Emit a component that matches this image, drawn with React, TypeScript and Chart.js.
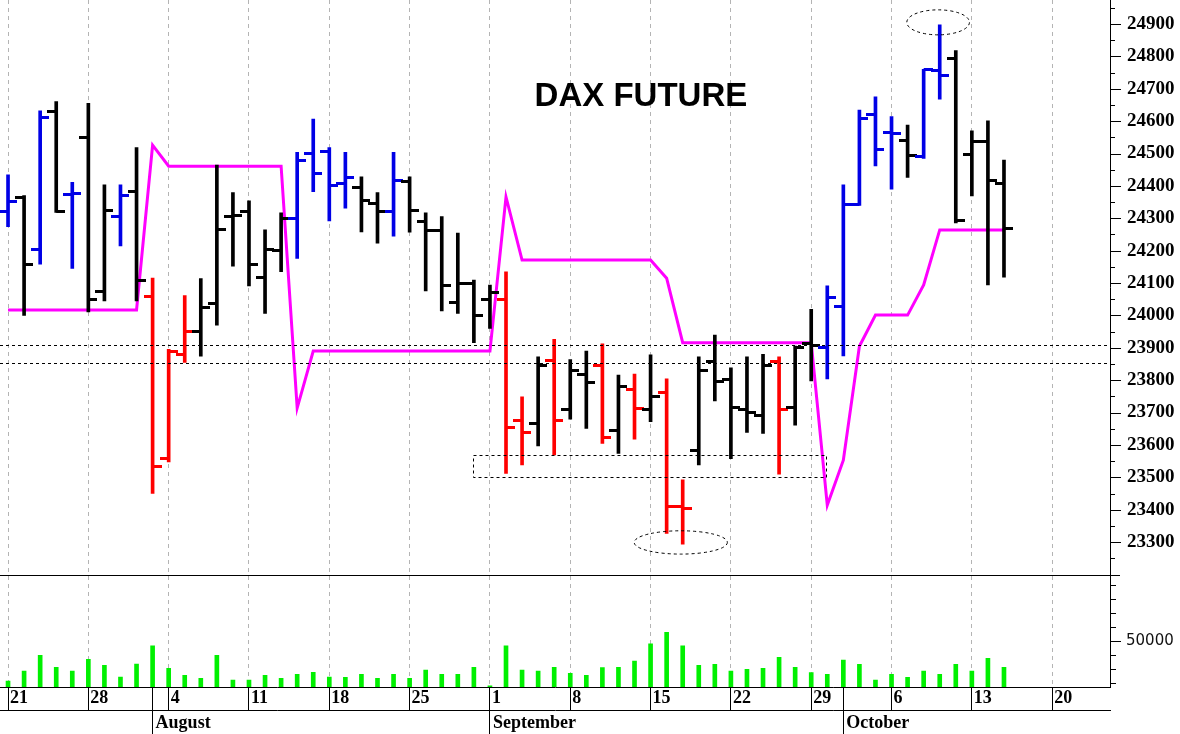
import React, { useEffect, useRef } from "react";
import { Chart, registerables } from "chart.js";

Chart.register(...registerables);

// ---- Axis labels ----
const dayTickIndex = [0, 5, 10, 15, 20, 25, 30, 35, 40, 45, 50, 55, 60, 65];
const dayTickLabels = ["21", "28", "4", "11", "18", "25", "1", "8", "15", "22", "29", "6", "13", "20"];
const monthTickIndex = [9, 30, 52];
const monthTickLabels = ["August", "September", "October"];
const priceTickValues = [
  23300, 23400, 23500, 23600, 23700, 23800, 23900, 24000, 24100,
  24200, 24300, 24400, 24500, 24600, 24700, 24800, 24900,
];
const volumeTickValues = [20000, 30000, 40000, 50000, 60000, 70000, 80000, 90000];
const volumeLabelValue = 50000;

// ---- Daily OHLC (trading days from Mon 21 Jul) ----
const opens = [
  24320, 24365, 24205, 24629, 24372, 24550, 24073, 24305, 24382, 24058,
  23558, 23878, 23950, 24037, 24305, 24320, 24116, 24202, 24300, 24501,
  24506, 24408, 24396, 24346, 24322, 24413, 24289, 24262, 24039, 24099,
  24050, 24050, 23675, 23667, 23862, 23711, 23819, 23844, 23646, 23770,
  23708, 23761, 23409, 23584, 23857, 23803, 23710, 23692, 23857, 23715,
  23914, 23901, 24029, 24344, 24619, 24564, 24540, 24492, 24756, 24792,
  24498, 24536, 24408,
];
const highs = [
  24434, 24370, 24632, 24660, 24411, 24655, 24403, 24403, 24518, 24115,
  23895, 24061, 24114, 24464, 24379, 24354, 24264, 24317, 24504, 24606,
  24518, 24504, 24428, 24379, 24504, 24428, 24317, 24305, 24254, 24109,
  24094, 24135, 23749, 23872, 23926, 23864, 23890, 23912, 23816, 23819,
  23878, 23804, 23492, 23872, 23939, 23838, 23872, 23880, 23872, 23905,
  24019, 24091, 24403, 24634, 24675, 24614, 24588, 24760, 24897, 24818,
  24570, 24601, 24480,
];
const lows = [
  24274, 24000, 24158, 24318, 24145, 24011, 24045, 24215, 24045, 23450,
  23548, 23855, 23874, 23970, 24152, 24091, 24006, 24135, 24176, 24382,
  24292, 24331, 24258, 24223, 24245, 24257, 24076, 24014, 24006, 23916,
  23960, 23512, 23538, 23597, 23569, 23680, 23651, 23605, 23574, 23618,
  23672, 23327, 23294, 23538, 23736, 23558, 23639, 23636, 23510, 23661,
  23798, 23804, 23875, 24340, 24462, 24390, 24426, 24485, 24668, 24286,
  24369, 24094, 24118,
];
const closes = [
  24351, 24158, 24611, 24320, 24376, 24050, 24325, 24369, 24107, 23533,
  23890, 23950, 24024, 24264, 24310, 24158, 24205, 24300, 24478, 24439,
  24400, 24425, 24356, 24320, 24418, 24323, 24262, 24091, 24099, 24001,
  24072, 23654, 23639, 23845, 23674, 23831, 23793, 23623, 23780, 23713,
  23749, 23411, 23405, 23831, 23797, 23715, 23699, 23845, 23710, 23900,
  23906, 24054, 24343, 24609, 24511, 24562, 24495, 24758, 24742, 24292,
  24536, 24416, 24269,
];
// B = blue, K = black, R = red
const barColorCodes = [
  "B", "K", "B", "K", "B", "K", "K", "B", "K", "R",
  "R", "R", "K", "K", "K", "K", "K", "K", "B", "B",
  "B", "B", "K", "K", "B", "K", "K", "K", "K", "K",
  "K", "R", "R", "K", "R", "K", "K", "R", "K", "R",
  "K", "R", "R", "K", "K", "K", "K", "K", "R", "K",
  "K", "B", "B", "B", "B", "B", "K", "B", "B", "K",
  "K", "K", "K",
];
// magenta stop line
const stopLine = [
  24017, 24017, 24017, 24017, 24017, 24017, 24017, 24017, 24017, 24526,
  24461, 24461, 24461, 24461, 24461, 24461, 24461, 24461, 23714, 23890,
  23890, 23890, 23890, 23890, 23890, 23890, 23890, 23890, 23890, 23890,
  23890, 24366, 24171, 24171, 24171, 24171, 24171, 24171, 24171, 24171,
  24171, 24115, 23916, 23916, 23916, 23916, 23916, 23916, 23916, 23916,
  23916, 23414, 23553, 23905, 24001, 24001, 24001, 24094, 24264, 24264,
  24264, 24264, 24264,
];
const volumes = [
  21400, 28600, 39800, 31200, 28600, 36900, 32600, 24300, 33600, 46600,
  30500, 25500, 23400, 39800, 22100, 22100, 25500, 23400, 26200, 27600,
  24300, 24100, 26200, 23400, 26200, 23400, 29300, 26200, 26200, 31200,
  18000, 46600, 29300, 28600, 31200, 26900, 25500, 31000, 31200, 35700,
  47900, 56200, 46600, 32600, 33400, 28600, 29800, 30500, 38400, 31200,
  27400, 26200, 36400, 33400, 22100, 26200, 24100, 28600, 26200, 33400,
  28600, 37600, 31200,
];

// ---- Annotations (in data units) ----
const supportLines = [23908, 23852];
const supportBox = { fromIdx: 28.95, toIdx: 50.9, low: 23500, high: 23569 };
const ellipses = [
  { idx: 41.88, price: 23299, rIdx: 2.9, rPrice: 36 },
  { idx: 57.9, price: 24905, rIdx: 1.95, rPrice: 38.6 },
];
const titleText = "DAX FUTURE";
const titleAt = { idx: 39.4, price: 24676 };

const PRICE_MIN = 23200;
const PRICE_MAX = 24974;
const VOL_MIN = 17143;
const VOL_MAX = 97500;

const colorMap: Record<string, string> = { B: "#0000e6", K: "#000000", R: "#ff0000" };
const SERIF = '"Liberation Serif", "Times New Roman", serif';

function makeTick(color: string, left: boolean) {
  const c = document.createElement("canvas");
  c.width = 18;
  c.height = 3;
  const g = c.getContext("2d")!;
  g.fillStyle = color;
  if (left) g.fillRect(0, 0, 9, 3);
  else g.fillRect(9, 0, 9, 3);
  return c;
}

const decorPlugin = {
  id: "decor",
  beforeDraw(chart: any) {
    const ctx = chart.ctx;
    ctx.save();
    ctx.fillStyle = "#ffffff";
    ctx.fillRect(0, 0, chart.width, chart.height);
    ctx.restore();
  },
  afterDraw(chart: any) {
    const ctx: CanvasRenderingContext2D = chart.ctx;
    const x = chart.scales.x;
    const y = chart.scales.y;
    const yv = chart.scales.yv;
    const area = chart.chartArea;
    const line = (x1: number, y1: number, x2: number, y2: number) => {
      ctx.beginPath();
      ctx.moveTo(x1, y1);
      ctx.lineTo(x2, y2);
      ctx.stroke();
    };
    ctx.save();
    ctx.strokeStyle = "#000";
    ctx.lineWidth = 1;
    // panel separator
    const sep = Math.round(y.bottom) + 0.5;
    line(area.left, sep, y.left + 10, sep);
    // price axis ticks (major every 100, minor every 50)
    for (let v = 23250; v <= 24950; v += 50) {
      const py = Math.round(y.getPixelForValue(v)) + 0.5;
      const len = v % 100 === 0 ? 11 : 5;
      line(y.left, py, y.left + len, py);
    }
    // volume axis ticks
    for (const v of volumeTickValues) {
      const py = Math.round(yv.getPixelForValue(v)) + 0.5;
      const len = v === volumeLabelValue ? 11 : 6;
      line(yv.left, py, yv.left + len, py);
    }
    // dotted annotations
    ctx.setLineDash([3, 3]);
    for (const v of supportLines) {
      const py = Math.round(y.getPixelForValue(v)) + 0.5;
      line(area.left, py, area.right, py);
    }
    const bx0 = Math.round(x.getPixelForValue(supportBox.fromIdx)) + 0.5;
    const bx1 = Math.round(x.getPixelForValue(supportBox.toIdx)) + 0.5;
    const by0 = Math.round(y.getPixelForValue(supportBox.high)) + 0.5;
    const by1 = Math.round(y.getPixelForValue(supportBox.low)) + 0.5;
    ctx.strokeRect(bx0, by0, bx1 - bx0, by1 - by0);
    for (const e of ellipses) {
      const cx = x.getPixelForValue(e.idx);
      const cy = y.getPixelForValue(e.price);
      const rx = x.getPixelForValue(e.idx + e.rIdx) - cx;
      const ry = cy - y.getPixelForValue(e.price + e.rPrice);
      ctx.beginPath();
      ctx.ellipse(cx, cy, rx, ry, 0, 0, Math.PI * 2);
      ctx.stroke();
    }
    ctx.setLineDash([]);
    // title
    ctx.fillStyle = "#000";
    ctx.font = 'bold 33px "Liberation Sans", Arial, sans-serif';
    ctx.textAlign = "center";
    ctx.textBaseline = "middle";
    ctx.fillText(titleText, x.getPixelForValue(titleAt.idx), y.getPixelForValue(titleAt.price));
    ctx.restore();
  },
};

export default function App() {
  const ref = useRef<HTMLCanvasElement>(null);
  useEffect(() => {
    document.body.style.margin = "0";
    const canvas = ref.current!;
    const idx = opens.map((_, i) => i);
    const imgs: Record<string, { L: HTMLCanvasElement; R: HTMLCanvasElement }> = {};
    for (const k of Object.keys(colorMap)) {
      imgs[k] = { L: makeTick(colorMap[k], true), R: makeTick(colorMap[k], false) };
    }
    const monthOnly = (v: number) => monthTickIndex.includes(v) && !dayTickIndex.includes(v);
    const zeroPad = (s: any) => {
      s.paddingLeft = 0;
      s.paddingRight = 0;
      s.paddingTop = 0;
      s.paddingBottom = 0;
    };

    const chart = new Chart(canvas, {
      type: "bar",
      data: {
        datasets: [
          {
            type: "scatter",
            label: "open",
            data: idx.map((i) => ({ x: i, y: opens[i] })),
            pointStyle: idx.map((i) => imgs[barColorCodes[i]].L),
            pointRadius: 4,
            showLine: false,
            xAxisID: "x",
            yAxisID: "y",
            order: 1,
          } as any,
          {
            type: "scatter",
            label: "close",
            data: idx.map((i) => ({ x: i, y: closes[i] })),
            pointStyle: idx.map((i) => imgs[barColorCodes[i]].R),
            pointRadius: 4,
            showLine: false,
            xAxisID: "x",
            yAxisID: "y",
            order: 1,
          } as any,
          {
            type: "bar",
            label: "range",
            data: idx.map((i) => ({ x: i, y: [lows[i], highs[i]] })),
            backgroundColor: idx.map((i) => colorMap[barColorCodes[i]]),
            borderWidth: 0,
            barThickness: 3,
            grouped: false,
            xAxisID: "x",
            yAxisID: "y",
            order: 2,
          } as any,
          {
            type: "bar",
            label: "volume",
            data: idx.map((i) => ({ x: i, y: volumes[i] })),
            backgroundColor: "#00f000",
            borderWidth: 0,
            barThickness: 4,
            grouped: false,
            xAxisID: "x",
            yAxisID: "yv",
            order: 3,
          } as any,
          {
            type: "line",
            label: "stop",
            data: idx.map((i) => ({ x: i, y: stopLine[i] })),
            borderColor: "#ff00ff",
            borderWidth: 3,
            pointRadius: 0,
            tension: 0,
            fill: false,
            xAxisID: "x",
            yAxisID: "y",
            order: 10,
          } as any,
        ],
      },
      options: {
        responsive: false,
        animation: false,
        devicePixelRatio: 1,
        events: [],
        layout: { padding: 0, autoPadding: false },
        plugins: { legend: { display: false }, tooltip: { enabled: false } },
        scales: {
          x: {
            type: "linear",
            position: "bottom",
            min: -0.5,
            max: 68.6,
            offset: false,
            afterBuildTicks: (s: any) => {
              const vals = [...dayTickIndex, ...monthTickIndex.filter((v) => !dayTickIndex.includes(v))].sort(
                (a, b) => a - b
              );
              s.ticks = vals.map((v) => ({ value: v }));
            },
            afterFit: (s: any) => {
              s.height = 23;
              zeroPad(s);
            },
            ticks: {
              autoSkip: false,
              maxRotation: 0,
              minRotation: 0,
              align: "start",
              labelOffset: 2,
              padding: -22,
              color: "#000",
              font: { family: SERIF, size: 18, weight: "bold" },
              callback: (v: any) => {
                const k = dayTickIndex.indexOf(Number(v));
                return k >= 0 ? dayTickLabels[k] : "";
              },
            },
            grid: {
              offset: false,
              drawOnChartArea: true,
              drawTicks: true,
              tickLength: 23,
              color: (c: any) => (c.tick && monthOnly(c.tick.value) ? "rgba(0,0,0,0)" : "#b4b4b4"),
              tickColor: "#000",
              tickWidth: 1,
              tickBorderDash: [],
              lineWidth: 1,
            },
            border: { display: true, color: "#000", width: 1, dash: [4, 4] },
          } as any,
          x2: {
            type: "linear",
            position: "bottom",
            min: -0.5,
            max: 68.6,
            offset: false,
            afterBuildTicks: (s: any) => {
              s.ticks = monthTickIndex.map((v) => ({ value: v }));
            },
            afterFit: (s: any) => {
              s.height = 24;
              zeroPad(s);
            },
            ticks: {
              autoSkip: false,
              maxRotation: 0,
              minRotation: 0,
              align: "start",
              labelOffset: 3,
              padding: -21,
              color: "#000",
              font: { family: SERIF, size: 18, weight: "bold" },
              callback: (v: any) => {
                const k = monthTickIndex.indexOf(Number(v));
                return k >= 0 ? monthTickLabels[k] : "";
              },
            },
            grid: {
              offset: false,
              drawOnChartArea: false,
              drawTicks: true,
              tickLength: 24,
              color: "#000",
              tickColor: "#000",
              tickWidth: 1,
              lineWidth: 1,
            },
            border: { display: true, color: "#000", width: 1 },
          } as any,
          y: {
            type: "linear",
            position: "right",
            stack: "right",
            stackWeight: 574.5,
            min: PRICE_MIN,
            max: PRICE_MAX,
            beginAtZero: false,
            offset: false,
            afterBuildTicks: (s: any) => {
              s.ticks = priceTickValues.map((v) => ({ value: v }));
            },
            afterFit: (s: any) => {
              s.width = 70;
              zeroPad(s);
            },
            ticks: {
              autoSkip: false,
              padding: 17,
              color: "#000",
              font: { family: SERIF, size: 19, weight: "bold" },
              callback: (v: any) => String(v),
            },
            grid: { display: false, drawTicks: false },
            border: { display: true, color: "#000", width: 1 },
          } as any,
          yv: {
            type: "linear",
            position: "right",
            stack: "right",
            stackWeight: 112.5,
            min: VOL_MIN,
            max: VOL_MAX,
            beginAtZero: false,
            offset: false,
            afterBuildTicks: (s: any) => {
              s.ticks = volumeTickValues.map((v) => ({ value: v }));
            },
            afterFit: (s: any) => {
              s.width = 70;
              zeroPad(s);
            },
            ticks: {
              autoSkip: false,
              padding: 16,
              color: "#111",
              font: { family: '"DejaVu Sans", sans-serif', size: 15 },
              callback: (v: any) => (Math.round(Number(v)) === volumeLabelValue ? String(volumeLabelValue) : ""),
            },
            grid: { display: false, drawTicks: false },
            border: { display: true, color: "#000", width: 1 },
          } as any,
        },
      },
      plugins: [decorPlugin],
    });
    return () => chart.destroy();
  }, []);
  return <canvas ref={ref} width={1180} height={734} style={{ display: "block" }} />;
}
